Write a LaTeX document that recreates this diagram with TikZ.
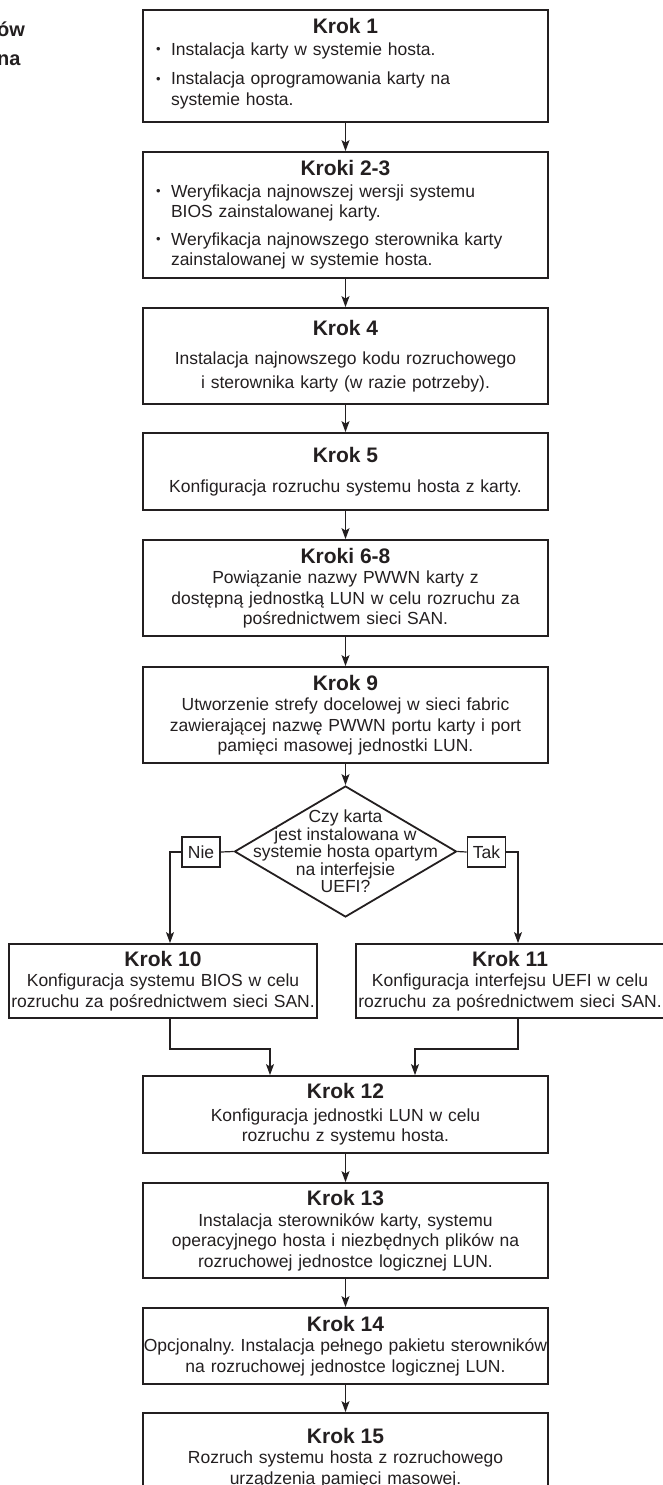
\documentclass[tikz,border=0pt]{standalone}
\usepackage{fontspec}
\setmainfont{Liberation Sans}
\usetikzlibrary{arrows.meta, shapes.geometric}
\frenchspacing

\definecolor{ink}{RGB}{35,31,32}
\newcommand{\tytul}[1]{{\fontsize{21}{24}\selectfont\bfseries #1}}
\newcommand{\punkt}[1]{\par\hangindent=18pt\hangafter=1\noindent\makebox[18pt][l]{\hspace{3pt}\raisebox{1.5pt}{\fontsize{13}{13}\selectfont\textbullet}}#1\par}

\begin{document}
\begin{tikzpicture}[x=1pt, y=-1pt, >={Stealth[length=11pt, width=8pt, inset=2.5pt]},
    krok/.style={draw=ink, line width=1.8pt, text=ink, minimum width=405pt, text width=402pt, align=center, inner sep=0pt, font=\fontsize{17.5}{20.5}\selectfont},
    waski/.style={krok, minimum width=308pt, text width=304pt},
    pytanie/.style={draw=ink, line width=1.8pt, diamond, minimum width=222pt, minimum height=131pt, inner sep=0pt},
    odp/.style={draw=ink, line width=1.6pt, text=ink, minimum width=38pt, minimum height=30pt, inner sep=0pt, font=\fontsize{17.5}{20}\selectfont},
    strz/.style={->, draw=ink, line width=1.2pt}]
    \useasboundingbox (0,0) rectangle (663,1485);

    % Title fragment
    \node[anchor=base west, inner sep=0pt, text=ink, font=\fontsize{20}{20}\selectfont\bfseries] (tyt1) at (-3,37) {ów};
    \node[anchor=base west, inner sep=0pt, text=ink, font=\fontsize{20}{20}\selectfont\bfseries] (tyt2) at (-3,66) {na};

    % Steps
    \node[krok, minimum height=112pt] (k1) at (345.5,66) {\tytul{Krok 1}\\[1pt]
        \parbox[t]{385pt}{\raggedright
        \punkt{Instalacja karty w systemie hosta.}\vspace{9pt}
        \punkt{Instalacja oprogramowania karty na\hfil\break systemie hosta.}\vspace{5pt}}};
    \node[krok, minimum height=126pt] (k23) at (345.5,215) {\tytul{Kroki 2-3}\\[1pt]
        \parbox[t]{385pt}{\raggedright
        \punkt{Weryfikacja najnowszej wersji systemu\hfil\break BIOS zainstalowanej karty.}\vspace{7pt}
        \punkt{Weryfikacja najnowszego sterownika karty\hfil\break zainstalowanej w systemie hosta.}}};
    \node[krok, minimum height=96pt] (k4) at (345.5,356) {\tytul{Krok 4}\\[9pt]
        Instalacja najnowszego kodu rozruchowego\\[3pt] i sterownika karty (w razie potrzeby).};
    \node[krok, minimum height=77pt] (k5) at (345.5,471.5) {\tytul{Krok 5}\\[9pt]
        Konfiguracja rozruchu systemu hosta z karty.};
    \node[krok, minimum height=96pt] (k68) at (345.5,588) {\tytul{Kroki 6-8}\\
        Powiązanie nazwy PWWN karty z\\ dostępną jednostką LUN w celu rozruchu za\\ pośrednictwem sieci SAN.};
    \node[krok, minimum height=96pt] (k9) at (345.5,715) {\tytul{Krok 9}\\
        Utworzenie strefy docelowej w sieci fabric\\ zawierającej nazwę PWWN portu karty i port\\ pamięci masowej jednostki LUN.};

    % Decision
    \node[pytanie] (pyt) at (345.5,851.5) {};
    \node[text=ink, align=center, inner sep=0pt, font=\fontsize{17.5}{17.5}\selectfont] (pyttxt) at (pyt.center) {Czy karta\\ jest instalowana w\\ systemie hosta opartym\\ na interfejsie\\ UEFI?};
    \node[odp] (nie) at (201,852) {Nie};
    \node[odp] (tak) at (486.5,852) {Tak};

    \node[waski, minimum height=74pt] (k10) at (163,981) {\tytul{Krok 10}\\
        Konfiguracja systemu BIOS w celu\\ rozruchu za pośrednictwem sieci SAN.};
    \node[waski, minimum height=74pt] (k11) at (510,981) {\tytul{Krok 11}\\
        Konfiguracja interfejsu UEFI w celu\\ rozruchu za pośrednictwem sieci SAN.};

    \node[krok, minimum height=77pt] (k12) at (345.5,1114.5) {\tytul{Krok 12}\\[2pt]
        Konfiguracja jednostki LUN w celu\\ rozruchu z systemu hosta.};
    \node[krok, minimum height=95pt] (k13) at (345.5,1230.5) {\tytul{Krok 13}\\
        Instalacja sterowników karty, systemu\\ operacyjnego hosta i niezbędnych plików na\\ rozruchowej jednostce logicznej LUN.};
    \node[krok, minimum height=76pt] (k14) at (345.5,1346) {\tytul{Krok 14}\\
        \makebox[402pt]{Opcjonalny. Instalacja pełnego pakietu sterowników}\\ na rozruchowej jednostce logicznej LUN.};
    \node[krok, minimum height=90pt] (k15) at (345.5,1458) {\tytul{Krok 15}\\
        Rozruch systemu hosta z rozruchowego\\ urządzenia pamięci masowej.};

    % Arrows
    \draw[strz] (k1) -- (k23);
    \draw[strz] (k23) -- (k4);
    \draw[strz] (k4) -- (k5);
    \draw[strz] (k5) -- (k68);
    \draw[strz] (k68) -- (k9);
    \draw[strz] (k9) -- (pyt);
    \draw[ink, line width=1.2pt] (pyt.west) -- (nie.east);
    \draw[ink, line width=1.2pt] (pyt.east) -- (tak.west);
    \draw[strz] (nie.west) -| ([xshift=7pt]k10.north);
    \draw[strz] (tak.east) -| ([xshift=8pt]k11.north);
    \draw[strz] ([xshift=7pt]k10.south) -- ++(0,30) -| ([xshift=-75.5pt]k12.north);
    \draw[strz] ([xshift=8pt]k11.south) -- ++(0,30) -| ([xshift=69.5pt]k12.north);
    \draw[strz] (k12) -- (k13);
    \draw[strz] (k13) -- (k14);
    \draw[strz] (k14) -- (k15);
\end{tikzpicture}
\end{document}
